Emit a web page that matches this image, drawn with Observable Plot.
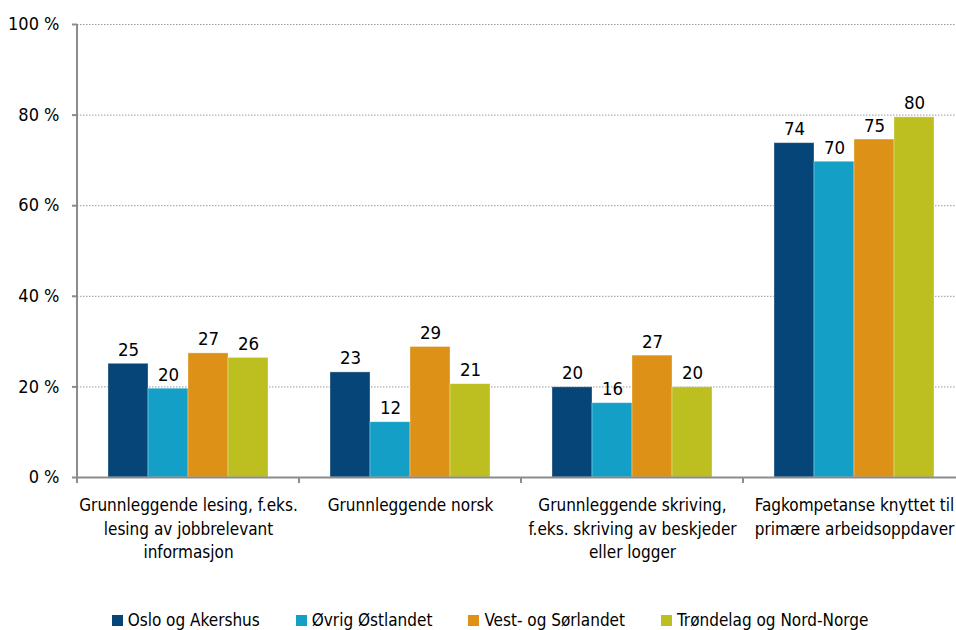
<!DOCTYPE html>
<html><head><meta charset="utf-8">
<script src="https://cdn.jsdelivr.net/npm/d3@7"></script>
<script src="https://cdn.jsdelivr.net/npm/@observablehq/plot@0.6"></script>
<style>
body{margin:0;background:#fff;font-family:"DejaVu Sans Condensed","Liberation Sans Narrow",sans-serif;font-stretch:condensed;}
#chart svg{display:block;overflow:visible;font-stretch:condensed;}
#legend{display:flex;justify-content:center;gap:36px;font-size:17px;color:#000;margin-top:19px;padding-left:24px;line-height:22px;}
#legend .item{display:flex;align-items:center;gap:5px;}
#legend .sw{width:11px;height:11px;display:inline-block;}
</style></head><body>
<div id="chart"></div><div id="legend"></div>
<script>
const categories = [
  "Grunnleggende lesing, f.eks.\nlesing av jobbrelevant\ninformasjon",
  "Grunnleggende norsk",
  "Grunnleggende skriving,\nf.eks. skriving av beskjeder\neller logger",
  "Fagkompetanse knyttet til\nprimære arbeidsoppdaver"
];
const regions = ["Oslo og Akershus", "Øvrig Østlandet", "Vest- og Sørlandet", "Trøndelag og Nord-Norge"];
const colors = ["#064577", "#149fc7", "#de9117", "#bdbe20"];
const osloAkershus = [25.1, 23.2, 19.9, 73.8];
const ovrigOstlandet = [19.6, 12.2, 16.4, 69.7];
const vestSorlandet = [27.4, 28.8, 26.9, 74.6];
const trondelagNordNorge = [26.4, 20.6, 19.9, 79.5];
const yTicks = [0, 20, 40, 60, 80, 100];

const series = [osloAkershus, ovrigOstlandet, vestSorlandet, trondelagNordNorge];
const table = [];
categories.forEach((c, i) => regions.forEach((r, j) => table.push({category: c, region: r, value: series[j][i]})));

const font = '"DejaVu Sans Condensed","Liberation Sans Narrow",sans-serif';
const chart = Plot.plot({
  width: 956, height: 590,
  marginLeft: 77, marginRight: 0, marginTop: 24, marginBottom: 113,
  style: {fontFamily: font, fontSize: "17px", color: "#000", background: "#fff"},
  fx: {domain: categories, padding: 0, range: [77, 965], label: null, axis: null},
  x: {domain: regions, paddingInner: 0, paddingOuter: 0.775, axis: null},
  y: {domain: [0, 100], label: null, axis: null},
  color: {domain: regions, range: colors},
  marks: [
    Plot.ruleY(yTicks.filter(d => d > 0), {stroke: "#9a9a9a", strokeDasharray: "1.5,1.5"}),
    Plot.barY(table, {fx: "category", x: "region", y: "value", fill: "region", stroke: "#ffffff", strokeOpacity: 0.4, strokeWidth: 0.8}),
    Plot.text(table, {fx: "category", x: "region", y: "value", text: d => Math.round(d.value), lineAnchor: "bottom", dy: -8, fontSize: 18.5, fill: "#000"}),
    Plot.ruleY([0], {stroke: "#8c8c8c", strokeWidth: 2}),
    Plot.axisY({ticks: yTicks, tickFormat: d => d + " %", tickSize: 5, tickPadding: 13, fontSize: 18, stroke: "#8c8c8c", strokeWidth: 2, label: null}),
    Plot.axisFx({anchor: "bottom", tickSize: 0, tickPadding: 17, lineHeight: 1.38, fontSize: 17, label: null})
  ]
});
document.getElementById("chart").appendChild(chart);

// y-axis line and category boundary ticks from the plot's own scales
const fx = chart.scale("fx"), y = chart.scale("y");
const svg = d3.select(chart);
const g = svg.append("g").attr("stroke", "#8c8c8c").attr("stroke-width", 2);
const y0 = y.apply(0), y100 = y.apply(100);
const left = fx.apply(categories[0]);
g.append("line").attr("x1", left).attr("x2", left).attr("y1", y100).attr("y2", y0 + 6);
categories.slice(1).forEach(c => {
  const xb = fx.apply(c);
  g.append("line").attr("x1", xb).attr("x2", xb).attr("y1", y0).attr("y2", y0 + 6);
});

const legend = document.getElementById("legend");
regions.forEach((r, i) => {
  const it = document.createElement("span"); it.className = "item";
  const sw = document.createElement("span"); sw.className = "sw"; sw.style.background = colors[i];
  it.appendChild(sw); it.appendChild(document.createTextNode(r));
  legend.appendChild(it);
});
</script>
</body></html>
